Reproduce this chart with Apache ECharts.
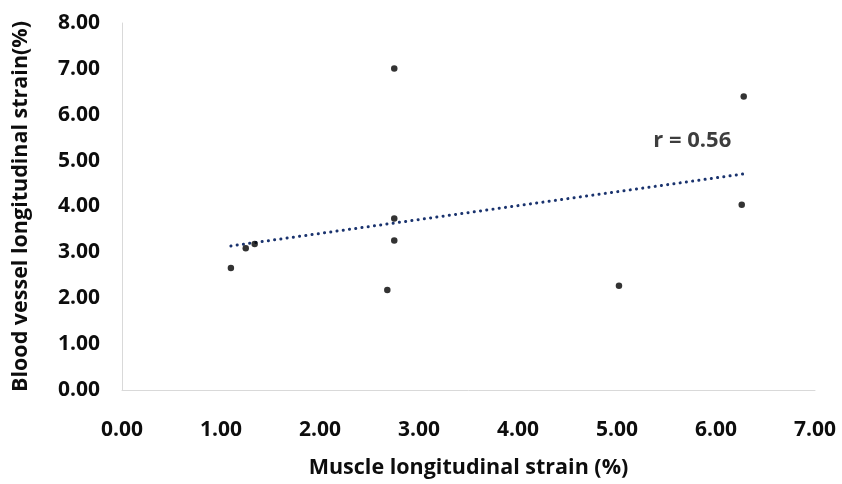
<!DOCTYPE html>
<html>
<head>
<meta charset="utf-8">
<script src="https://cdn.jsdelivr.net/npm/echarts@6/dist/echarts.min.js"></script>
<style>
html,body{margin:0;padding:0;background:#fff;}
#chart{width:842px;height:484px;}
</style>
</head>
<body>
<div id="chart"></div>
<script>
// Data
var muscleStrain = [1.10, 1.25, 1.34, 2.68, 2.75, 2.75, 2.75, 5.02, 6.26, 6.28];
var vesselStrain = [2.66, 3.09, 3.18, 2.18, 7.01, 3.74, 3.26, 2.27, 4.04, 6.40];
var trendX = [1.10, 6.28];
var trendY = [3.14, 4.71];
var rLabel = 'r = 0.56';
var rPos = [5.76, 5.43];
var xTitle = 'Muscle longitudinal strain (%)';
var yTitle = 'Blood vessel longitudinal strain(%)';

var points = muscleStrain.map(function (x, i) { return [x, vesselStrain[i]]; });
var trend = trendX.map(function (x, i) { return [x, trendY[i]]; });

var FONT = '"Open Sans", "Noto Sans", sans-serif';
var TXT = '#0d0d0d';

var chart = echarts.init(document.getElementById('chart'), null, {renderer: 'canvas'});
chart.setOption({
  animation: false,
  backgroundColor: '#fff',
  grid: {left: 122, right: 27, top: 23, bottom: 91, containLabel: false},
  xAxis: {
    type: 'value', min: 0, max: 7, interval: 1,
    name: xTitle, nameLocation: 'middle', nameGap: 67,
    nameTextStyle: {fontFamily: FONT, fontWeight: 'bold', fontSize: 21.5, color: TXT},
    axisLine: {show: true, lineStyle: {color: '#d9d9d9', width: 1}},
    axisTick: {show: false},
    splitLine: {show: false},
    axisLabel: {margin: 30, fontFamily: FONT, fontWeight: 'bold', fontSize: 21, color: TXT,
      formatter: function (v) { return v.toFixed(2); }}
  },
  yAxis: {
    type: 'value', min: 0, max: 8, interval: 1,
    name: yTitle, nameLocation: 'middle', nameGap: 90,
    nameTextStyle: {fontFamily: FONT, fontWeight: 'bold', fontSize: 21.5, color: TXT},
    axisLine: {show: true, lineStyle: {color: '#d9d9d9', width: 1}},
    axisTick: {show: false},
    splitLine: {show: false},
    axisLabel: {margin: 22, fontFamily: FONT, fontWeight: 'bold', fontSize: 21, color: TXT,
      padding: [6, 0, 0, 0],
      formatter: function (v) { return v.toFixed(2); }}
  },
  series: [
    {
      type: 'line', data: trend, symbol: 'none', z: 1,
      lineStyle: {color: '#1a336e', width: 3, type: [0.1, 6.2], cap: 'round'}
    },
    {
      type: 'scatter', data: points, symbol: 'circle', symbolSize: 6.5, z: 3,
      itemStyle: {color: '#000'}
    },
    {
      type: 'scatter', data: [rPos], symbolSize: 0, z: 4,
      label: {show: true, position: 'inside', formatter: rLabel,
        fontFamily: FONT, fontWeight: 'bold', fontSize: 22, color: TXT}
    }
  ]
});
</script>
</body>
</html>
